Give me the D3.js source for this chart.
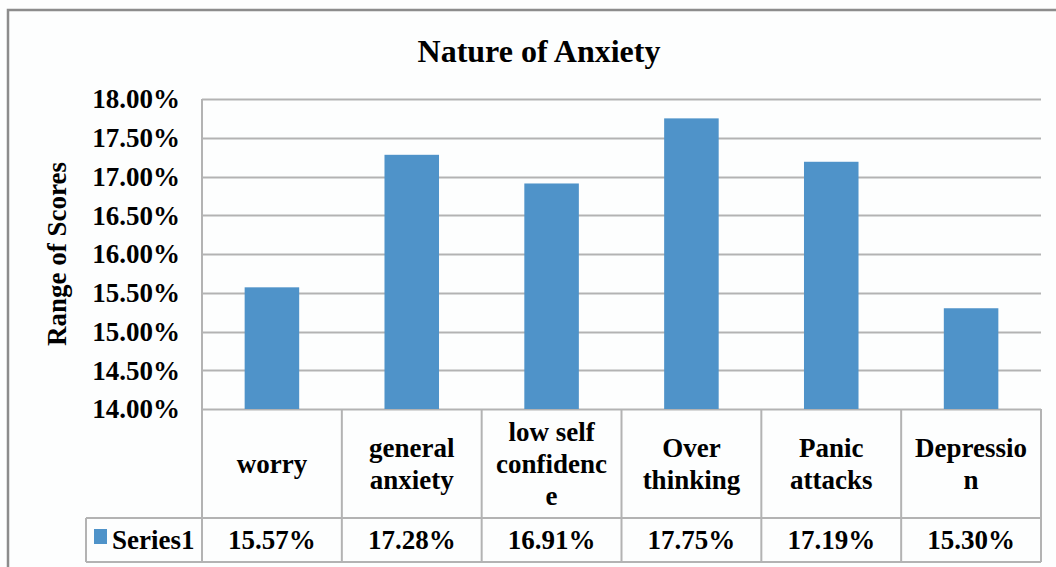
<!DOCTYPE html>
<meta charset="utf-8">
<style>
body { margin: 0; background: #fff; }
text { font-family: "Liberation Serif", "Times New Roman", serif; font-weight: bold; fill: #000; }
</style>
<body>
<div id="chart"></div>
<script src="https://cdnjs.cloudflare.com/ajax/libs/d3/7.8.5/d3.min.js"></script>
<script>

// Data for chart
var categories = ["worry", "general anxiety", "low self confidence", "Over thinking", "Panic attacks", "Depression"];
// wrapped the way the table cells show them
var labelLines = [["worry"], ["general", "anxiety"], ["low self", "confidenc", "e"], ["Over", "thinking"], ["Panic", "attacks"], ["Depressio", "n"]];
var values = [15.57, 17.28, 16.91, 17.75, 17.19, 15.30];
var yTicks = [14.0, 14.5, 15.0, 15.5, 16.0, 16.5, 17.0, 17.5, 18.0];
var seriesName = "Series1";

var width = 1056;
var height = 567;

var svg = d3.select("#chart")
              .append("svg")
              .attr("width", width)
              .attr("height", height);

// background + outer frame
svg.append("rect")
   .attr("x", 0).attr("y", 0)
   .attr("width", width).attr("height", height)
   .attr("fill", "#fdfefe");

svg.append("path")
   .attr("d", "M8," + height + "V10H" + width)
   .attr("fill", "none")
   .attr("stroke", "#8c8c8c")
   .attr("stroke-width", 2.5);

// plot area
var plotL = 202, plotR = 1041, plotT = 99, plotB = 409;
var rowLine = 518, tableBottom = 562, legendLeft = 86;
var fs = 27;

var xScale = d3.scaleBand()
               .domain(categories)
               .range([plotL, plotR])
               .paddingInner(0.61)
               .paddingOuter(0.305);

var colScale = d3.scaleBand()
                 .domain(categories)
                 .range([plotL, plotR]);

var yScale = d3.scaleLinear()
               .domain([14, 18])
               .range([plotB, plotT]);

// gridlines
var gridG = svg.append("g");
gridG.selectAll("line")
     .data(yTicks)
     .enter()
     .append("line")
     .attr("x1", plotL).attr("x2", plotR)
     .attr("y1", function(d) { return Math.round(yScale(d)) + 0.5; })
     .attr("y2", function(d) { return Math.round(yScale(d)) + 0.5; })
     .attr("stroke", "#b3b3b3")
     .attr("stroke-width", 2);

// y axis line
svg.append("line")
   .attr("x1", plotL).attr("x2", plotL)
   .attr("y1", plotT).attr("y2", tableBottom)
   .attr("stroke", "#b3b3b3")
   .attr("stroke-width", 2);

// tick labels
svg.append("g").selectAll("text")
   .data(yTicks)
   .enter()
   .append("text")
   .attr("x", 180)
   .attr("y", function(d) { return yScale(d); })
   .attr("dy", "0.35em")
   .attr("text-anchor", "end")
   .attr("font-size", fs)
   .text(function(d) { return d.toFixed(2) + "%"; });

// axis title
svg.append("text")
   .attr("transform", "translate(66," + ((plotT + plotB) / 2 + 0) + ") rotate(-90)")
   .attr("text-anchor", "middle")
   .attr("font-size", fs)
   .text("Range of Scores");

// title
svg.append("text")
   .attr("x", 539)
   .attr("y", 62)
   .attr("text-anchor", "middle")
   .attr("font-size", 32)
   .text("Nature of Anxiety");

// bars
svg.append("g").selectAll("rect")
   .data(values)
   .enter()
   .append("rect")
   .attr("x", function(d, i) { return xScale(categories[i]); })
   .attr("y", function(d) { return yScale(d); })
   .attr("width", xScale.bandwidth())
   .attr("height", function(d) { return yScale(14) - yScale(d); })
   .attr("fill", "#4f93c9");

// data table lines
var tableG = svg.append("g")
                .attr("stroke", "#b3b3b3")
                .attr("stroke-width", 2);

tableG.selectAll("line.col")
      .data(categories)
      .enter()
      .append("line")
      .attr("class", "col")
      .attr("x1", function(d) { return colScale(d) + colScale.bandwidth(); })
      .attr("x2", function(d) { return colScale(d) + colScale.bandwidth(); })
      .attr("y1", plotB).attr("y2", tableBottom);

tableG.append("line")
      .attr("x1", legendLeft).attr("x2", plotR)
      .attr("y1", rowLine).attr("y2", rowLine);
tableG.append("line")
      .attr("x1", legendLeft).attr("x2", plotR)
      .attr("y1", tableBottom).attr("y2", tableBottom);
tableG.append("line")
      .attr("x1", legendLeft).attr("x2", legendLeft)
      .attr("y1", rowLine).attr("y2", tableBottom);

// category labels
var lineH = 32;
var catG = svg.append("g");
labelLines.forEach(function(lines, i) {
  var cx = colScale(categories[i]) + colScale.bandwidth() / 2;
  var cy = (plotB + rowLine) / 2;
  var t = catG.append("text")
              .attr("x", cx)
              .attr("text-anchor", "middle")
              .attr("font-size", fs);
  t.selectAll("tspan")
   .data(lines)
   .enter()
   .append("tspan")
   .attr("x", cx)
   .attr("y", function(d, j) { return cy + (j - (lines.length - 1) / 2) * lineH; })
   .attr("dy", "0.35em")
   .text(function(d) { return d; });
});

// value row
svg.append("g").selectAll("text")
   .data(values)
   .enter()
   .append("text")
   .attr("x", function(d, i) { return colScale(categories[i]) + colScale.bandwidth() / 2; })
   .attr("y", (rowLine + tableBottom) / 2)
   .attr("dy", "0.35em")
   .attr("text-anchor", "middle")
   .attr("font-size", fs)
   .text(function(d) { return d.toFixed(2) + "%"; });

// legend key
svg.append("rect")
   .attr("x", 94).attr("y", 529)
   .attr("width", 13).attr("height", 15)
   .attr("fill", "#4f93c9");
svg.append("text")
   .attr("x", 112)
   .attr("y", (rowLine + tableBottom) / 2)
   .attr("dy", "0.35em")
   .attr("font-size", fs)
   .text(seriesName);

</script>
